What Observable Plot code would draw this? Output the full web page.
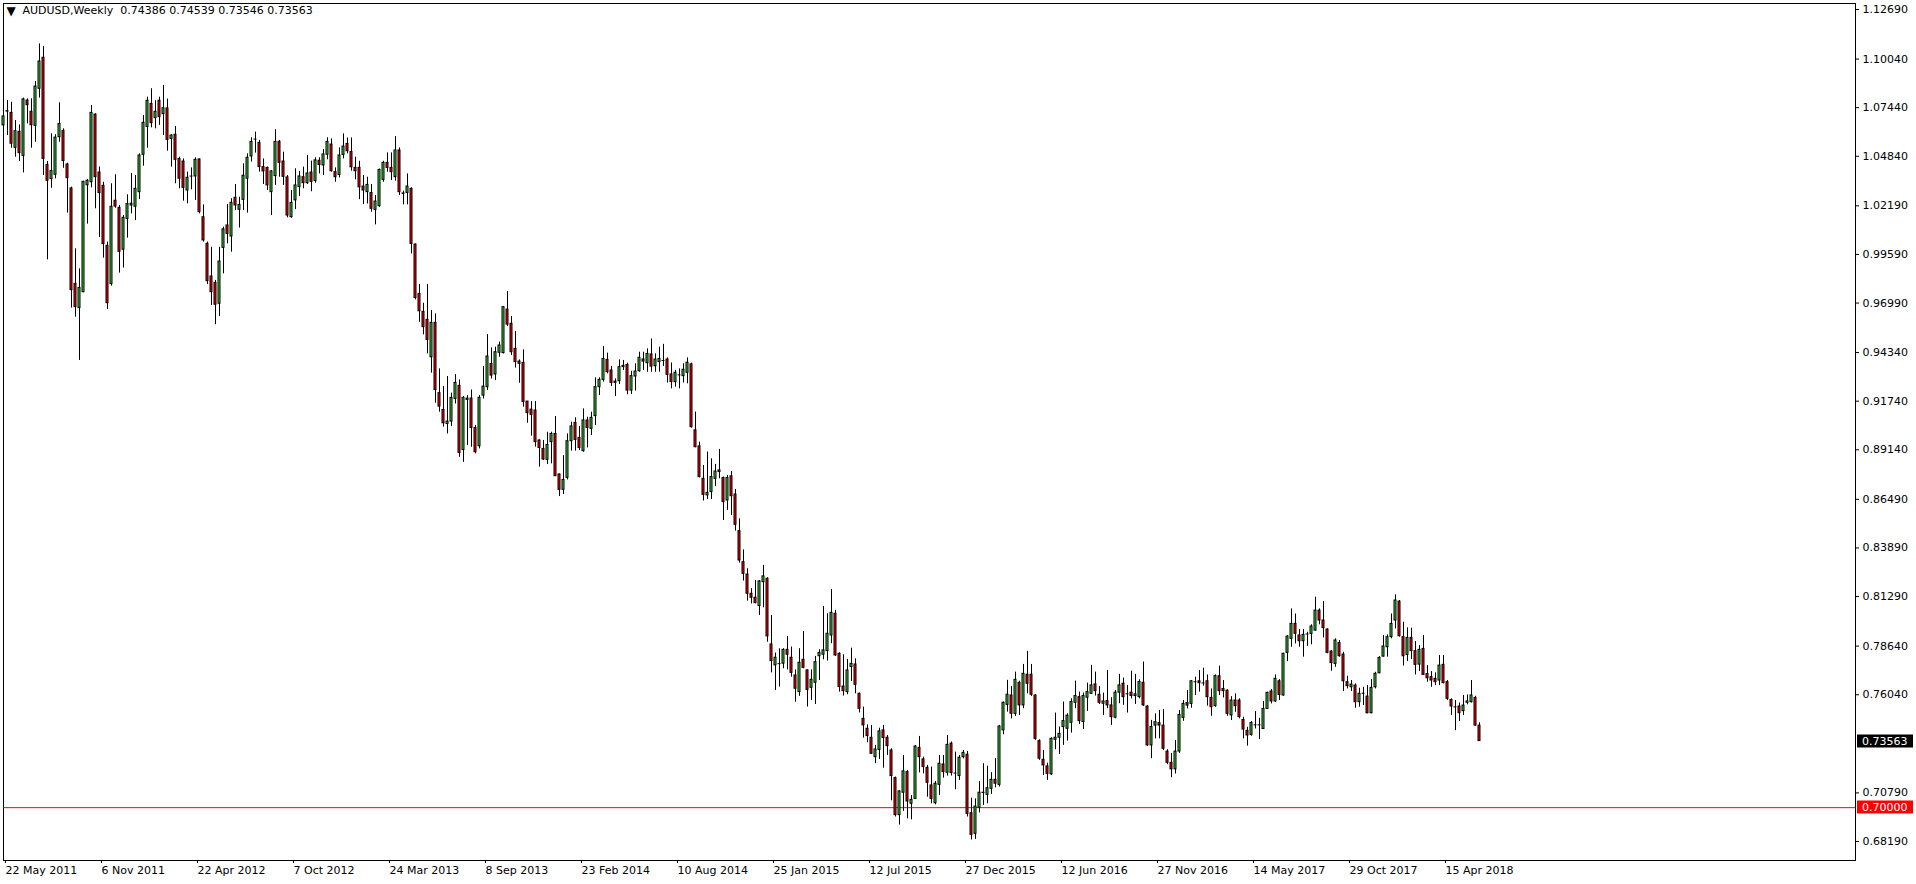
<!DOCTYPE html>
<html><head><meta charset="utf-8">
<script src="https://cdn.jsdelivr.net/npm/d3@7"></script>
<script src="https://cdn.jsdelivr.net/npm/@observablehq/plot@0.6"></script>
<style>html,body{margin:0;padding:0;background:#fff;overflow:hidden} svg{display:block}</style>
</head><body><div id="chart"></div>
<script>
const symbolTitle = "AUDUSD,Weekly";
const lastQuote = ["0.74386", "0.74539", "0.73546", "0.73563"];
const startWeek = "2011-05-22";

const open = [
1.0649,1.0725,1.0716,1.0529,1.0615,1.0486,1.0782,1.0722,1.0647,1.0845,
1.1011,1.0438,1.0362,1.0385,1.0586,1.0620,1.0440,1.0312,0.9802,0.9672,
0.9757,1.0329,1.0345,1.0707,1.0397,1.0326,1.0005,0.9800,1.0246,1.0208,
0.9984,1.0149,1.0221,1.0214,1.0292,1.0492,1.0641,1.0764,1.0688,1.0781,
1.0709,1.0740,1.0577,1.0599,1.0470,1.0456,1.0301,1.0378,1.0376,1.0467,
1.0158,1.0016,0.9841,0.9807,0.9695,0.9994,1.0114,1.0055,1.0262,1.0198,
1.0251,1.0364,1.0483,1.0576,1.0556,1.0426,1.0422,1.0292,1.0378,1.0561,
1.0456,1.0371,1.0158,1.0248,1.0319,1.0372,1.0340,1.0397,1.0351,1.0460,
1.0435,1.0492,1.0547,1.0399,1.0384,1.0491,1.0550,1.0507,1.0422,1.0422,
1.0322,1.0292,1.0288,1.0197,1.0217,1.0358,1.0449,1.0422,1.0372,1.0515,
1.0285,1.0288,1.0310,1.0012,0.9748,0.9652,0.9609,0.9409,0.9593,0.9217,
0.9127,0.9052,0.9065,0.9186,0.9256,0.8913,0.9188,0.9188,0.9031,0.8933,
0.9204,0.9249,0.9373,0.9317,0.9433,0.9431,0.9664,0.9588,0.9454,0.9386,
0.9379,0.9172,0.9129,0.9124,0.8964,0.8919,0.8860,0.8955,0.8999,0.8782,
0.8700,0.8764,0.8960,0.9058,0.8978,0.8907,0.9071,0.9026,0.9094,0.9249,
0.9288,0.9395,0.9338,0.9279,0.9281,0.9363,0.9368,0.9231,0.9306,0.9334,
0.9397,0.9377,0.9424,0.9361,0.9383,0.9392,0.9397,0.9317,0.9276,0.9315,
0.9308,0.9326,0.9371,0.9018,0.8932,0.8759,0.8670,0.8688,0.8759,0.8804,
0.8763,0.8643,0.8772,0.8675,0.8479,0.8313,0.8247,0.8144,0.8123,0.8078,
0.8206,0.8224,0.7873,0.7761,0.7770,0.7770,0.7844,0.7802,0.7707,0.7618,
0.7791,0.7734,0.7641,0.7668,0.7810,0.7818,0.7837,0.7921,0.8037,0.7823,
0.7648,0.7618,0.7752,0.7766,0.7609,0.7475,0.7422,0.7374,0.7270,0.7309,
0.7413,0.7374,0.7306,0.7158,0.6960,0.7080,0.7190,0.7021,0.7047,0.7320,
0.7258,0.7213,0.7119,0.7024,0.7122,0.7231,0.7187,0.7342,0.7185,0.7169,
0.7270,0.7283,0.6970,0.6860,0.6999,0.7080,0.7069,0.7101,0.7149,0.7122,
0.7413,0.7550,0.7600,0.7502,0.7668,0.7547,0.7711,0.7711,0.7600,0.7356,
0.7256,0.7221,0.7178,0.7363,0.7374,0.7431,0.7422,0.7454,0.7561,0.7591,
0.7458,0.7588,0.7609,0.7659,0.7604,0.7556,0.7570,0.7547,0.7481,0.7615,
0.7663,0.7609,0.7615,0.7597,0.7591,0.7668,0.7541,0.7333,0.7439,0.7452,
0.7439,0.7300,0.7240,0.7205,0.7300,0.7480,0.7560,0.7555,0.7673,0.7676,
0.7667,0.7676,0.7587,0.7543,0.7703,0.7635,0.7626,0.7493,0.7573,0.7573,
0.7469,0.7411,0.7389,0.7443,0.7443,0.7421,0.7528,0.7621,0.7568,0.7676,
0.7600,0.7828,0.7903,0.7983,0.7921,0.7890,0.7929,0.7929,0.7947,0.8054,
0.8001,0.7953,0.7835,0.7769,0.7881,0.7819,0.7671,0.7644,0.7653,0.7564,
0.7612,0.7594,0.7505,0.7644,0.7719,0.7808,0.7858,0.7912,0.8001,0.8102,
0.7912,0.7817,0.7908,0.7837,0.7765,0.7849,0.7715,0.7698,0.7689,0.7680,
0.7764,0.7671,0.7576,0.7539,0.7541,0.7516,0.7561,0.7564,0.7587,0.74386
];
const high = [
1.0720,1.0782,1.0773,1.0675,1.0652,1.0795,1.0791,1.0791,1.0884,1.1085,
1.1071,1.0456,1.0604,1.0599,1.0770,1.0631,1.0447,1.0319,0.9989,0.9882,
1.0351,1.0360,1.0756,1.0711,1.0427,1.0345,1.0025,1.0337,1.0385,1.0221,
1.0167,1.0278,1.0392,1.0381,1.0497,1.0702,1.0800,1.0845,1.0781,1.0800,
1.0863,1.0790,1.0599,1.0643,1.0479,1.0470,1.0399,1.0422,1.0476,1.0470,
1.0224,1.0025,0.9997,0.9820,0.9997,1.0105,1.0226,1.0257,1.0333,1.0265,
1.0444,1.0497,1.0583,1.0613,1.0569,1.0470,1.0426,1.0408,1.0626,1.0569,
1.0506,1.0381,1.0301,1.0417,1.0403,1.0426,1.0488,1.0458,1.0476,1.0476,
1.0520,1.0583,1.0577,1.0422,1.0529,1.0604,1.0582,1.0582,1.0479,1.0457,
1.0381,1.0372,1.0333,1.0274,1.0416,1.0457,1.0502,1.0502,1.0589,1.0529,
1.0297,1.0390,1.0315,1.0015,0.9798,0.9698,0.9798,0.9659,0.9641,0.9347,
0.9252,0.9306,0.9217,0.9316,0.9288,0.9199,0.9204,0.9234,0.9044,0.9204,
0.9359,0.9530,0.9459,0.9463,0.9490,0.9680,0.9761,0.9627,0.9547,0.9395,
0.9449,0.9172,0.9172,0.9172,0.8967,0.8964,0.9008,0.9008,0.9092,0.8785,
0.8883,0.8999,0.9062,0.9085,0.9039,0.9133,0.9088,0.9115,0.9299,0.9299,
0.9466,0.9431,0.9359,0.9293,0.9395,0.9392,0.9377,0.9334,0.9374,0.9436,
0.9436,0.9454,0.9507,0.9427,0.9463,0.9478,0.9406,0.9378,0.9339,0.9347,
0.9374,0.9406,0.9378,0.9116,0.8955,0.8830,0.8902,0.8866,0.8836,0.8916,
0.8768,0.8777,0.8798,0.8702,0.8545,0.8379,0.8278,0.8171,0.8215,0.8215,
0.8296,0.8230,0.8028,0.7827,0.7850,0.7850,0.7916,0.7859,0.7737,0.7850,
0.7942,0.7737,0.7737,0.7809,0.7845,0.8076,0.8037,0.8167,0.8055,0.7828,
0.7818,0.7793,0.7853,0.7796,0.7613,0.7538,0.7443,0.7440,0.7333,0.7425,
0.7440,0.7386,0.7315,0.7164,0.7090,0.7279,0.7199,0.7065,0.7333,0.7381,
0.7270,0.7226,0.7217,0.7140,0.7279,0.7279,0.7386,0.7351,0.7297,0.7279,
0.7306,0.7301,0.7051,0.7047,0.7140,0.7235,0.7222,0.7187,0.7262,0.7440,
0.7565,0.7681,0.7648,0.7725,0.7677,0.7766,0.7836,0.7766,0.7604,0.7363,
0.7306,0.7238,0.7374,0.7506,0.7431,0.7565,0.7502,0.7582,0.7677,0.7618,
0.7613,0.7666,0.7761,0.7725,0.7648,0.7613,0.7734,0.7588,0.7627,0.7713,
0.7693,0.7654,0.7730,0.7713,0.7684,0.7779,0.7547,0.7467,0.7502,0.7520,
0.7525,0.7310,0.7290,0.7359,0.7520,0.7573,0.7626,0.7680,0.7698,0.7733,
0.7746,0.7710,0.7635,0.7710,0.7757,0.7680,0.7630,0.7594,0.7609,0.7582,
0.7484,0.7430,0.7461,0.7514,0.7478,0.7568,0.7618,0.7632,0.7710,0.7685,
0.7826,0.7921,0.8063,0.8036,0.7953,0.7953,0.7938,0.7978,0.8126,0.8063,
0.8102,0.7956,0.7840,0.7903,0.7894,0.7831,0.7703,0.7680,0.7662,0.7639,
0.7644,0.7653,0.7685,0.7724,0.7808,0.7921,0.7924,0.8036,0.8138,0.8108,
0.7992,0.7962,0.7960,0.7888,0.7867,0.7921,0.7760,0.7728,0.7721,0.7814,
0.7814,0.7680,0.7582,0.7573,0.7560,0.7600,0.7603,0.7680,0.7596,0.74539
];
const low = [
1.0613,1.0595,1.0527,1.0479,1.0456,1.0395,1.0657,1.0527,1.0559,1.0795,
1.0381,0.9930,1.0313,1.0363,1.0559,1.0420,1.0180,0.9672,0.9623,0.9392,
0.9754,1.0121,1.0315,1.0203,1.0049,0.9939,0.9664,0.9789,1.0206,0.9859,
0.9886,1.0046,1.0176,1.0140,1.0253,1.0431,1.0527,1.0636,1.0631,1.0649,
1.0595,1.0511,1.0426,1.0337,1.0310,1.0244,1.0230,1.0305,1.0248,1.0176,
1.0025,0.9798,0.9686,0.9583,0.9627,0.9855,1.0016,0.9971,1.0194,1.0100,
1.0194,1.0180,1.0453,1.0501,1.0399,1.0333,1.0301,1.0167,1.0328,1.0372,
1.0328,1.0155,1.0153,1.0199,1.0269,1.0310,1.0333,1.0294,1.0340,1.0390,
1.0381,1.0465,1.0399,1.0345,1.0368,1.0470,1.0497,1.0404,1.0358,1.0252,
1.0226,1.0229,1.0185,1.0117,1.0211,1.0345,1.0399,1.0354,1.0351,1.0274,
1.0224,1.0224,0.9962,0.9716,0.9596,0.9529,0.9427,0.9324,0.9163,0.9115,
0.9035,0.8999,0.9038,0.9159,0.8874,0.8847,0.8937,0.8928,0.8892,0.8919,
0.9186,0.9231,0.9293,0.9285,0.9409,0.9427,0.9573,0.9418,0.9351,0.9270,
0.9142,0.9056,0.8987,0.8928,0.8821,0.8857,0.8835,0.8839,0.8771,0.8664,
0.8675,0.8753,0.8907,0.8907,0.8910,0.8901,0.8924,0.8990,0.9044,0.9204,
0.9276,0.9320,0.9252,0.9199,0.9263,0.9338,0.9208,0.9210,0.9228,0.9329,
0.9338,0.9329,0.9329,0.9329,0.9329,0.9360,0.9271,0.9240,0.9249,0.9240,
0.9271,0.9267,0.9030,0.8925,0.8764,0.8640,0.8648,0.8648,0.8718,0.8759,
0.8536,0.8590,0.8563,0.8479,0.8308,0.8212,0.8105,0.8090,0.8090,0.8028,
0.8069,0.7885,0.7721,0.7627,0.7645,0.7743,0.7737,0.7698,0.7564,0.7595,
0.7743,0.7538,0.7573,0.7552,0.7680,0.7791,0.7784,0.7877,0.7809,0.7618,
0.7597,0.7604,0.7675,0.7609,0.7507,0.7372,0.7347,0.7285,0.7235,0.7258,
0.7211,0.7279,0.7037,0.6950,0.6907,0.6980,0.6940,0.6935,0.7044,0.7186,
0.7181,0.7056,0.7021,0.7015,0.7065,0.7158,0.7169,0.7169,0.7096,0.7146,
0.7261,0.6950,0.6827,0.6830,0.6972,0.7012,0.7021,0.7071,0.7106,0.7110,
0.7390,0.7511,0.7475,0.7488,0.7493,0.7529,0.7609,0.7595,0.7360,0.7253,
0.7172,0.7146,0.7172,0.7310,0.7285,0.7333,0.7356,0.7399,0.7529,0.7445,
0.7418,0.7515,0.7606,0.7597,0.7552,0.7493,0.7529,0.7440,0.7475,0.7556,
0.7547,0.7506,0.7582,0.7552,0.7582,0.7541,0.7328,0.7262,0.7368,0.7368,
0.7305,0.7230,0.7160,0.7180,0.7290,0.7462,0.7528,0.7532,0.7600,0.7618,
0.7650,0.7543,0.7489,0.7537,0.7600,0.7587,0.7489,0.7466,0.7510,0.7475,
0.7368,0.7329,0.7382,0.7421,0.7364,0.7418,0.7525,0.7555,0.7564,0.7573,
0.7596,0.7781,0.7858,0.7876,0.7858,0.7805,0.7863,0.7871,0.7944,0.7978,
0.7908,0.7823,0.7730,0.7751,0.7805,0.7621,0.7635,0.7621,0.7532,0.7537,
0.7546,0.7502,0.7502,0.7635,0.7716,0.7805,0.7805,0.7903,0.7956,0.7912,
0.7757,0.7781,0.7792,0.7710,0.7728,0.7707,0.7671,0.7644,0.7653,0.7653,
0.7662,0.7573,0.7493,0.7412,0.7461,0.7493,0.7550,0.7560,0.7436,0.73546
];
const close = [
1.0697,1.0723,1.0551,1.0618,1.0501,1.0788,1.0757,1.0650,1.0857,1.0991,
1.0470,1.0353,1.0406,1.0584,1.0657,1.0458,1.0367,0.9768,0.9677,0.9780,
1.0347,1.0353,1.0716,1.0372,1.0287,1.0014,0.9698,1.0214,1.0215,0.9973,
1.0155,1.0228,1.0230,1.0310,1.0488,1.0663,1.0781,1.0661,1.0722,1.0693,
1.0741,1.0572,1.0595,1.0465,1.0364,1.0315,1.0369,1.0378,1.0465,1.0185,
1.0034,0.9816,0.9757,0.9690,0.9921,1.0093,1.0069,1.0235,1.0221,1.0224,
1.0380,1.0476,1.0561,1.0576,1.0426,1.0403,1.0328,1.0403,1.0561,1.0449,
1.0374,1.0167,1.0235,1.0328,1.0376,1.0340,1.0392,1.0347,1.0462,1.0437,
1.0494,1.0561,1.0404,1.0372,1.0488,1.0536,1.0511,1.0425,1.0404,1.0318,
1.0301,1.0331,1.0203,1.0242,1.0411,1.0449,1.0422,1.0399,1.0515,1.0292,
1.0283,1.0322,1.0015,0.9726,0.9655,0.9570,0.9502,0.9593,0.9234,0.9145,
0.9056,0.9065,0.9192,0.9272,0.8897,0.9192,0.9181,0.9031,0.8901,0.9192,
0.9252,0.9413,0.9311,0.9436,0.9472,0.9677,0.9584,0.9436,0.9383,0.9374,
0.9169,0.9110,0.9101,0.8955,0.8924,0.8862,0.8940,0.8999,0.8773,0.8700,
0.8753,0.8960,0.9039,0.8967,0.8924,0.9071,0.9031,0.9085,0.9249,0.9288,
0.9400,0.9329,0.9272,0.9272,0.9356,0.9356,0.9231,0.9308,0.9333,0.9406,
0.9386,0.9427,0.9359,0.9397,0.9400,0.9392,0.9315,0.9276,0.9326,0.9315,
0.9342,0.9380,0.9035,0.8928,0.8768,0.8673,0.8684,0.8768,0.8798,0.8795,
0.8634,0.8763,0.8666,0.8513,0.8322,0.8251,0.8144,0.8123,0.8094,0.8210,
0.8237,0.7916,0.7784,0.7802,0.7770,0.7844,0.7818,0.7721,0.7636,0.7775,
0.7748,0.7630,0.7684,0.7778,0.7828,0.7841,0.7930,0.8042,0.7814,0.7645,
0.7623,0.7734,0.7769,0.7657,0.7529,0.7440,0.7383,0.7288,0.7311,0.7408,
0.7372,0.7329,0.7169,0.6960,0.7087,0.7194,0.7033,0.7042,0.7327,0.7270,
0.7217,0.7133,0.7047,0.7128,0.7235,0.7190,0.7336,0.7185,0.7185,0.7267,
0.7293,0.6967,0.6855,0.7006,0.7080,0.7078,0.7104,0.7149,0.7128,0.7434,
0.7561,0.7604,0.7502,0.7684,0.7547,0.7716,0.7663,0.7604,0.7368,0.7262,
0.7226,0.7181,0.7368,0.7374,0.7395,0.7463,0.7492,0.7565,0.7597,0.7463,
0.7597,0.7618,0.7654,0.7623,0.7561,0.7568,0.7547,0.7484,0.7615,0.7654,
0.7591,0.7609,0.7597,0.7606,0.7672,0.7547,0.7333,0.7431,0.7457,0.7439,
0.7315,0.7240,0.7205,0.7300,0.7496,0.7555,0.7546,0.7676,0.7673,0.7666,
0.7667,0.7591,0.7537,0.7703,0.7623,0.7623,0.7502,0.7573,0.7543,0.7484,
0.7418,0.7386,0.7453,0.7443,0.7443,0.7528,0.7614,0.7568,0.7689,0.7603,
0.7823,0.7915,0.7983,0.7930,0.7890,0.7924,0.7929,0.7969,0.8054,0.8001,
0.7960,0.7828,0.7773,0.7894,0.7810,0.7676,0.7650,0.7658,0.7564,0.7609,
0.7612,0.7505,0.7641,0.7716,0.7801,0.7862,0.7912,0.7983,0.8108,0.7917,
0.7810,0.7908,0.7837,0.7764,0.7844,0.7710,0.7692,0.7680,0.7671,0.7760,
0.7666,0.7582,0.7541,0.7539,0.7505,0.7546,0.7568,0.7600,0.7439,0.73563
];

const priceTicks = [1.12690,1.10040,1.07440,1.04840,1.02190,0.99590,0.96990,0.94340,0.91740,0.89140,0.86490,0.83890,0.81290,0.78640,0.76040,0.70790,0.68190];
const dateTickIndex = [0,24,48,72,96,120,144,168,192,216,240,264,288,312,336,360];
const dateTickLabels = ["22 May 2011","6 Nov 2011","22 Apr 2012","7 Oct 2012","24 Mar 2013","8 Sep 2013","23 Feb 2014","10 Aug 2014","25 Jan 2015","12 Jul 2015","27 Dec 2015","12 Jun 2016","27 Nov 2016","14 May 2017","29 Oct 2017","15 Apr 2018"];
const levelValue = 0.70000;
const currentPrice = 0.73563;

const bull = "#32cd32", bear = "#ff0000";
const t0 = new Date(startWeek + "T00:00:00Z");
const bars = open.map((o, i) => ({
  i, date: d3.utcWeek.offset(t0, i),
  open: o, high: high[i], low: low[i], close: close[i]
}));
const dojis = bars.filter(d => d.open === d.close);

const W = 1916, H = 884;
const FONT = "'DejaVu Sans', Verdana, sans-serif";

const chart = Plot.plot({
  width: W, height: H,
  marginLeft: 3, marginRight: 61, marginTop: 3, marginBottom: 24,
  style: {fontFamily: FONT, fontSize: "11px", background: "#fff", color: "#000", overflow: "visible"},
  x: {type: "linear", domain: [0, 463], axis: null, label: null},
  y: {domain: [0.67174, 1.13011], axis: null, label: null},
  marks: [
    Plot.frame({stroke: "#000"}),
    Plot.ruleY([levelValue], {stroke: "#ff0000", strokeWidth: 1}),
    Plot.ruleX(bars, {x: "i", y1: "low", y2: "high", stroke: "#000", strokeWidth: 1}),
    Plot.rect(bars.filter(d => d.open !== d.close), {
      x1: d => d.i - 0.25, x2: d => d.i + 0.25,
      y1: "open", y2: "close",
      fill: d => d.close > d.open ? bull : bear,
      stroke: "#000", strokeWidth: 1
    }),
    Plot.ruleY(dojis, {y: "close", x1: d => d.i - 0.375, x2: d => d.i + 0.375, stroke: "#000"}),
    Plot.axisY(priceTicks, {
      anchor: "right", tickSize: 3, tickPadding: 4, label: null,
      tickFormat: d => d.toFixed(5), fontSize: 11, stroke: "#000"
    }),
    Plot.axisX(dateTickIndex, {
      anchor: "bottom", tickSize: 3, tickPadding: 3, label: null,
      tickFormat: d => dateTickLabels[dateTickIndex.indexOf(d)],
      textAnchor: "start", dx: 2, fontSize: 11, stroke: "#000"
    }),
    Plot.text(["\u25BC"], {frameAnchor: "top-left", dx: 3, dy: 3, fontSize: 12, textAnchor: "start", lineAnchor: "top"}),
    Plot.text([symbolTitle + "  " + lastQuote.join(" ")], {
      frameAnchor: "top-left", dx: 19, dy: 3, fontSize: 11, textAnchor: "start", lineAnchor: "top"
    })
  ]
});
document.getElementById("chart").appendChild(chart);

// price labels in the right scale area
const ys = chart.scale("y");
const svg = d3.select(chart);
function priceBox(value, bg) {
  const yy = Math.round(ys.apply(value));
  const g = svg.append("g");
  g.append("rect").attr("x", 1857).attr("y", yy - 6.5).attr("width", 56).attr("height", 13).attr("fill", bg);
  g.append("text").attr("x", 1862).attr("y", yy).attr("dy", "0.35em").attr("text-anchor", "start")
    .attr("fill", "#fff").attr("font-family", FONT).attr("font-size", 11).text(value.toFixed(5));
}
priceBox(currentPrice, "#000");
priceBox(levelValue, "#ff0000");
</script>
</body></html>
